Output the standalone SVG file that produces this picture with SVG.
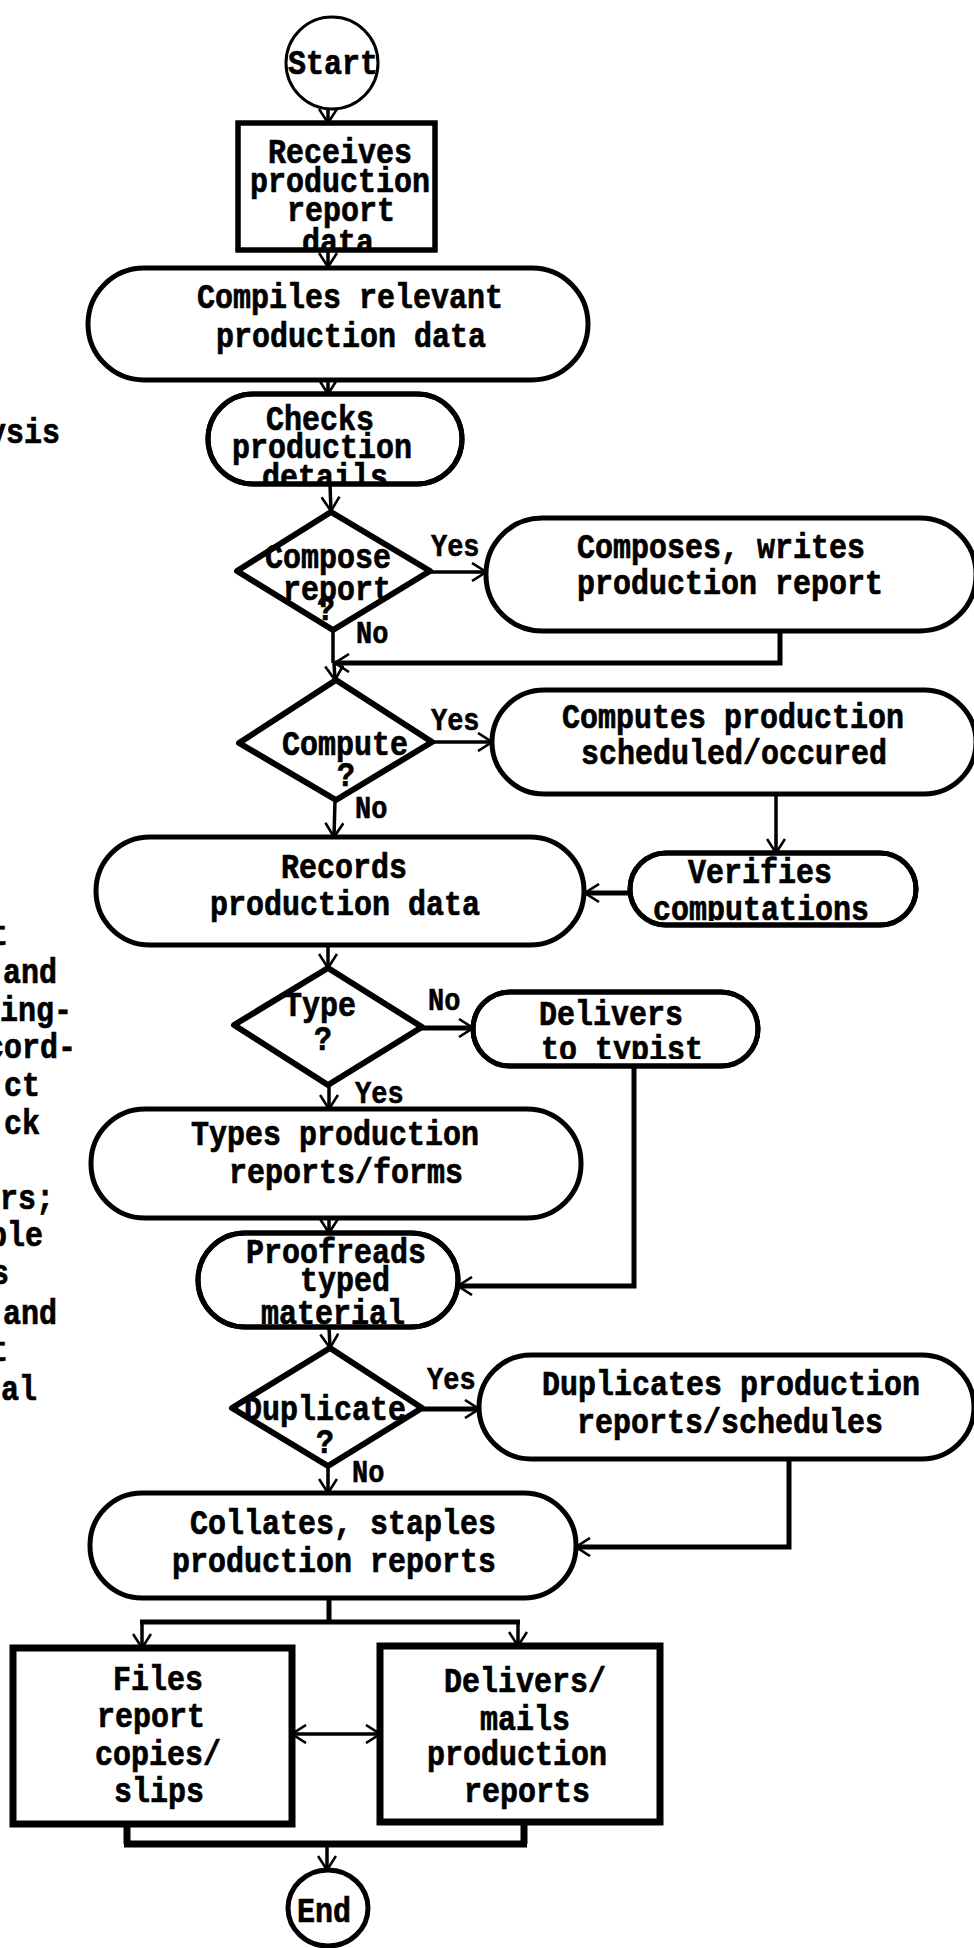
<svg xmlns="http://www.w3.org/2000/svg" width="974" height="1948" viewBox="0 0 974 1948">
  <style>
    .t { font-family: "Liberation Mono", "Courier New", monospace; font-size: 30px; font-weight: bold; fill: #000; stroke: #000; stroke-width: 0.6; }
    .t text, text.t { transform-box: fill-box; transform-origin: 50% 73.5%; transform: scaleY(1.15); }
    .m { text-anchor: middle; }
    .lbl { font-family: "Liberation Mono", "Courier New", monospace; font-size: 27px; font-weight: bold; fill: #000; stroke: #000; stroke-width: 0.5; transform-box: fill-box; transform-origin: 50% 73.5%; transform: scaleY(1.15); }
    .term { fill: #fff; stroke: #000; stroke-width: 5; }
    .proc { fill: #fff; stroke: #000; stroke-width: 5; }
    .heavy { fill: #fff; stroke: #000; stroke-width: 7; }
    .dia { fill: #fff; stroke: #000; stroke-width: 6; stroke-linejoin: round; }
    .ln { fill: none; stroke: #000; stroke-width: 3.5; }
    .lnw { fill: none; stroke: #000; stroke-width: 5; }
    .arr { marker-end: url(#arrow); }
  </style>
  <defs>
    <marker id="arrow" viewBox="0 0 16 20" refX="15" refY="10" markerWidth="16" markerHeight="20" markerUnits="userSpaceOnUse" orient="auto-start-reverse">
      <path d="M1,1 L15,10 L1,19" fill="none" stroke="#000" stroke-width="2.6"/>
    </marker>
    <clipPath id="clip-receives"><rect x="238" y="123" width="197" height="126"/></clipPath>
    <clipPath id="clip-checks"><rect x="208" y="394" width="254" height="89" rx="45"/></clipPath>
    <clipPath id="clip-verifies"><rect x="630" y="853" width="286" height="68" rx="34"/></clipPath>
    <clipPath id="clip-typist"><rect x="473" y="992" width="285" height="67" rx="34"/></clipPath>
    <clipPath id="clip-proof"><rect x="198" y="1233" width="260" height="92" rx="46"/></clipPath>
  </defs>

  <rect x="0" y="0" width="974" height="1948" fill="#fff"/>

  <!-- cut-off words at the left page margin -->
  <g id="margin-text" class="t">
    <text x="-12" y="443">ysis</text>
    <text x="-10" y="945">t</text>
    <text x="3" y="983">and</text>
    <text x="0" y="1021">ing-</text>
    <text x="-14" y="1058">cord-</text>
    <text x="4" y="1096">ct</text>
    <text x="4" y="1134">ck</text>
    <text x="0" y="1209">rs;</text>
    <text x="-11" y="1246">ple</text>
    <text x="-9" y="1284">s</text>
    <text x="3" y="1324">and</text>
    <text x="-10" y="1361">t</text>
    <text x="1" y="1400">al</text>
  </g>

  <!-- connectors -->
  <g id="connectors">
    <path class="ln arr" d="M328,110 L328,123"/>
    <path class="ln arr" d="M328,250 L328,267"/>
    <path class="ln arr" d="M328,380 L328,394"/>
    <path class="ln arr" d="M330,484 L331,511"/>
    <path class="ln arr" d="M430,572 L486,572"/>
    <path class="ln" d="M333,630 L333,663"/>
    <path class="lnw arr" d="M780,631 L780,663 L335,663"/>
    <path class="ln arr" d="M334,663 L335,680"/>
    <path class="ln arr" d="M432,742 L492,742"/>
    <path class="ln arr" d="M335,800 L334,837"/>
    <path class="ln arr" d="M776,794 L776,853"/>
    <path class="lnw arr" d="M630,893 L585,893"/>
    <path class="ln arr" d="M328,945 L328,968"/>
    <path class="lnw arr" d="M422,1028 L473,1028"/>
    <path class="ln arr" d="M329,1085 L329,1109"/>
    <path class="ln arr" d="M329,1218 L329,1233"/>
    <path class="lnw arr" d="M634,1066 L634,1286 L458,1286"/>
    <path class="ln arr" d="M329,1327 L330,1348"/>
    <path class="lnw arr" d="M422,1409 L479,1409"/>
    <path class="ln arr" d="M328,1466 L328,1493"/>
    <path class="lnw arr" d="M789,1459 L789,1547 L576,1547"/>
    <path class="lnw" d="M329,1598 L329,1622 M140,1622 L520,1622"/>
    <path class="ln arr" d="M142,1622 L142,1648"/>
    <path class="ln arr" d="M518,1622 L518,1646"/>
    <path class="ln arr" d="M292,1734 L380,1734" marker-start="url(#arrow)"/>
    <path d="M127,1824 L127,1844 M524,1822 L524,1844 M124,1844 L527,1844" fill="none" stroke="#000" stroke-width="7"/>
    <path class="ln arr" d="M327,1844 L327,1870"/>

    <text class="lbl" x="431" y="556">Yes</text>
    <text class="lbl" x="356" y="643">No</text>
    <text class="lbl" x="431" y="730">Yes</text>
    <text class="lbl" x="355" y="818">No</text>
    <text class="lbl" x="428" y="1010">No</text>
    <text class="lbl" x="355" y="1103">Yes</text>
    <text class="lbl" x="427" y="1389">Yes</text>
    <text class="lbl" x="352" y="1482">No</text>
  </g>

  <g id="start">
    <ellipse cx="332" cy="63" rx="46" ry="46" fill="#fff" stroke="#000" stroke-width="3"/>
    <text class="t m" x="333" y="74">Start</text>
  </g>

  <g id="receives">
    <rect class="proc" x="238" y="123" width="197" height="127"/>
    <g clip-path="url(#clip-receives)" class="t m">
      <text x="340" y="163">Receives</text>
      <text x="340" y="192">production</text>
      <text x="341" y="221">report</text>
      <text x="338" y="253">data</text>
    </g>
    <rect x="238" y="123" width="197" height="127" fill="none" stroke="#000" stroke-width="5"/>
  </g>

  <g id="compiles">
    <rect class="term" x="88" y="268" width="500" height="112" rx="56"/>
    <text class="t m" x="350" y="308">Compiles relevant</text>
    <text class="t m" x="351" y="347">production data</text>
  </g>

  <g id="checks">
    <rect class="term" x="208" y="394" width="254" height="90" rx="45"/>
    <g clip-path="url(#clip-checks)" class="t m">
      <text x="320" y="430">Checks</text>
      <text x="322" y="458">production</text>
      <text x="325" y="488">details</text>
    </g>
    <rect x="208" y="394" width="254" height="90" rx="45" fill="none" stroke="#000" stroke-width="5"/>
  </g>

  <g id="compose-decision">
    <polygon class="dia" points="331,512 430,571 333,630 237,571"/>
    <text class="t m" x="328" y="568">Compose</text>
    <text class="t m" x="337" y="600">report</text>
    <text class="t m" x="326" y="620">?</text>
  </g>

  <g id="composes">
    <rect class="term" x="486" y="518" width="490" height="113" rx="56"/>
    <text class="t" x="577" y="558">Composes, writes</text>
    <text class="t" x="577" y="594">production report</text>
  </g>

  <g id="compute-decision">
    <polygon class="dia" points="336,680 432,742 336,800 239,743"/>
    <text class="t m" x="345" y="755">Compute</text>
    <text class="t m" x="346" y="786">?</text>
  </g>

  <g id="computes">
    <rect class="term" x="492" y="690" width="484" height="104" rx="52"/>
    <text class="t m" x="733" y="728">Computes production</text>
    <text class="t m" x="734" y="764">scheduled/occured</text>
  </g>

  <g id="records">
    <rect class="term" x="96" y="837" width="488" height="108" rx="54"/>
    <text class="t m" x="344" y="878">Records</text>
    <text class="t m" x="345" y="915">production data</text>
  </g>

  <g id="verifies">
    <rect class="term" x="630" y="853" width="286" height="72" rx="36"/>
    <g clip-path="url(#clip-verifies)" class="t m">
      <text x="760" y="883">Verifies</text>
      <text x="761" y="920">computations</text>
    </g>
    <rect x="630" y="853" width="286" height="72" rx="36" fill="none" stroke="#000" stroke-width="5"/>
  </g>

  <g id="type-decision">
    <polygon class="dia" points="328,968 422,1027 328,1085 234,1025"/>
    <text class="t m" x="320" y="1016">Type</text>
    <text class="t m" x="323" y="1050">?</text>
  </g>

  <g id="delivers-typist">
    <rect class="term" x="473" y="992" width="285" height="74" rx="37"/>
    <g clip-path="url(#clip-typist)" class="t m">
      <text x="611" y="1025">Delivers</text>
      <text x="622" y="1060">to typist</text>
    </g>
    <rect x="473" y="992" width="285" height="74" rx="37" fill="none" stroke="#000" stroke-width="5"/>
  </g>

  <g id="types">
    <rect class="term" x="91" y="1109" width="490" height="109" rx="54"/>
    <text class="t m" x="335" y="1145">Types production</text>
    <text class="t m" x="346" y="1183">reports/forms</text>
  </g>

  <g id="proofreads">
    <rect class="term" x="198" y="1233" width="260" height="94" rx="47"/>
    <g clip-path="url(#clip-proof)" class="t m">
      <text x="336" y="1263">Proofreads</text>
      <text x="345" y="1291">typed</text>
      <text x="333" y="1324">material</text>
    </g>
    <rect x="198" y="1233" width="260" height="94" rx="47" fill="none" stroke="#000" stroke-width="5"/>
  </g>

  <g id="duplicate-decision">
    <polygon class="dia" points="330,1348 422,1408 328,1466 232,1408"/>
    <text class="t m" x="325" y="1420">Duplicate</text>
    <text class="t m" x="325" y="1453">?</text>
  </g>

  <g id="duplicates">
    <rect class="term" x="479" y="1355" width="495" height="104" rx="52"/>
    <text class="t m" x="731" y="1395">Duplicates production</text>
    <text class="t m" x="730" y="1433">reports/schedules</text>
  </g>

  <g id="collates">
    <rect class="term" x="90" y="1493" width="486" height="105" rx="52"/>
    <text class="t m" x="343" y="1534">Collates, staples</text>
    <text class="t m" x="334" y="1572">production reports</text>
  </g>

  <g id="files">
    <rect class="heavy" x="13" y="1648" width="279" height="176"/>
    <text class="t m" x="158" y="1690">Files</text>
    <text class="t m" x="151" y="1727">report</text>
    <text class="t m" x="158" y="1765">copies/</text>
    <text class="t m" x="159" y="1802">slips</text>
  </g>

  <g id="delivers-mails">
    <rect class="heavy" x="380" y="1646" width="280" height="176"/>
    <text class="t m" x="525" y="1692">Delivers/</text>
    <text class="t m" x="525" y="1730">mails</text>
    <text class="t m" x="517" y="1765">production</text>
    <text class="t m" x="527" y="1802">reports</text>
  </g>

  <g id="end">
    <ellipse cx="328" cy="1908" rx="40" ry="38" fill="#fff" stroke="#000" stroke-width="5"/>
    <text class="t m" x="324" y="1922">End</text>
  </g>
</svg>
